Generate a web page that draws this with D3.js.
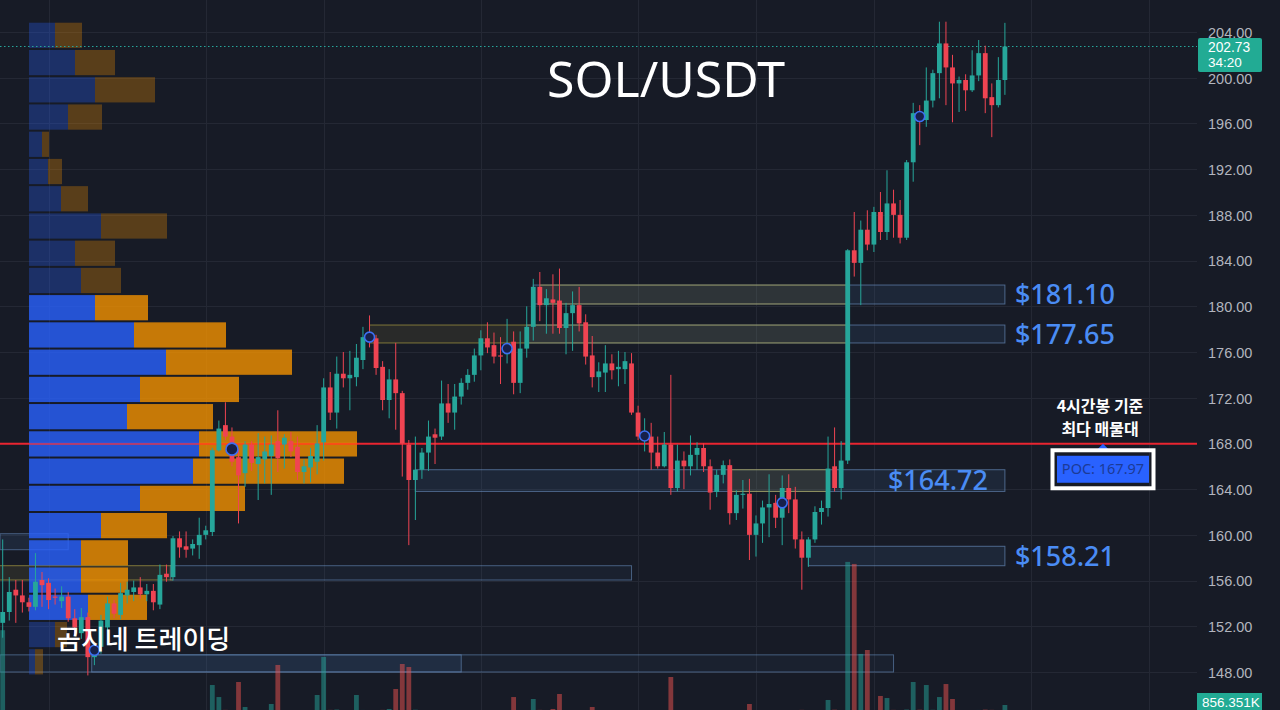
<!DOCTYPE html>
<html><head><meta charset="utf-8">
<script src="https://cdn.jsdelivr.net/npm/d3@7"></script>
<style>html,body{margin:0;padding:0;background:#171b26;overflow:hidden}</style>
</head><body><svg id="c" width="1280" height="710"></svg>
<script>
// ---------- DATA ----------
const opens=[
152.3,153.25,155.2,154.7,154.1,153.7,156.05,155.8,154.6,154.2,154.6,152.7,151.4,152.8,
149.3,150.2,151.9,154.0,153.0,154.7,155.0,155.4,154.8,155.1,153.9,156.6,156.3,159.7,
159.0,158.8,159.1,160.0,160.25,167.4,169.6,168.6,166.8,165.4,167.9,166.2,166.6,166.9,
168.2,167.9,168.2,167.7,165.5,165.9,166.4,168.1,172.9,170.7,174.1,173.7,173.8,175.3,
177.3,177.2,174.7,171.8,173.6,172.4,167.9,164.8,165.7,167.2,168.8,168.6,171.5,170.7,
172.1,173.3,174.0,175.7,177.2,176.6,175.7,175.8,176.9,173.3,176.3,178.2,181.7,180.1,
180.6,180.5,178.1,179.4,180.1,178.6,175.7,173.8,174.2,175.0,174.5,174.5,175.0,170.7,
168.4,168.6,167.2,166.0,167.9,164.1,166.5,166.0,167.0,167.6,166.0,163.75,165.25,166.1,
161.9,163.5,163.6,160.0,161.0,162.4,162.8,161.5,164.1,163.1,159.6,158.0,159.6,162.0,
162.35,166.0,164.1,166.5,184.9,183.8,186.7,185.4,188.25,186.5,189.0,188.0,186.0,192.6,
196.9,196.3,198.0,200.4,203.0,200.9,199.5,199.8,198.9,200.2,202.15,198.3,197.6,199.8];
const highs=[
159.6,156.3,156.05,156.05,154.5,158.4,156.75,156.2,155.3,155.5,155.0,153.5,153.6,153.2,
150.3,153.0,154.6,154.3,155.8,155.9,156.0,156.3,155.7,155.7,157.4,157.4,159.9,160.3,
160.3,159.6,161.5,160.8,167.6,170.0,171.6,169.4,167.5,168.2,168.2,168.9,168.6,168.7,
170.9,168.8,169.0,168.6,166.6,167.6,169.6,173.7,174.25,175.6,176.0,176.1,176.7,178.2,
179.2,177.5,175.2,174.5,176.8,172.6,168.3,168.6,167.6,170.0,169.3,173.5,173.2,173.2,
173.7,174.5,176.3,177.9,178.6,177.7,177.3,178.9,177.8,177.8,180.0,182.4,183.0,181.5,
182.8,183.3,180.3,181.3,181.7,179.3,177.4,175.1,176.6,175.8,176.1,176.0,175.9,171.3,
170.2,169.8,168.6,169.0,174.0,167.9,167.3,168.7,168.1,168.0,166.6,165.7,166.5,166.6,
163.9,164.8,164.9,161.7,163.0,165.3,163.5,165.2,165.3,164.2,160.3,159.8,162.5,163.0,
168.6,169.4,168.2,185.0,188.25,187.5,188.4,188.7,190.0,191.9,190.2,189.3,192.8,197.8,
197.6,200.9,200.7,204.9,204.9,202.0,200.1,200.3,202.4,203.3,202.8,199.5,201.8,204.8];
const lows=[
151.0,152.5,152.3,153.2,153.3,153.4,153.7,153.5,153.9,153.6,152.4,151.2,150.9,147.7,
148.6,149.6,151.5,152.7,152.6,154.0,154.2,154.4,154.2,153.4,153.5,155.9,156.0,158.0,
158.0,158.2,157.9,159.6,159.9,167.3,168.3,166.0,161.0,164.2,165.6,163.05,164.5,163.5,
165.5,165.8,166.8,164.8,164.5,164.6,165.3,166.5,170.05,169.3,172.9,170.9,173.0,174.5,
176.4,174.0,170.9,170.2,169.2,165.1,159.1,161.3,164.9,165.6,166.2,168.3,169.8,169.2,
171.4,172.7,173.4,174.4,175.9,175.0,173.2,175.0,172.3,172.4,175.5,177.0,178.7,177.6,
177.6,177.6,175.8,176.1,177.8,174.9,172.9,172.5,172.5,173.6,173.0,173.2,170.5,168.3,
167.3,165.7,165.8,165.9,163.5,163.8,164.0,165.2,165.7,165.5,162.2,163.3,164.5,160.9,
161.3,162.3,157.8,158.1,159.3,159.8,160.6,159.1,161.9,158.8,155.2,157.2,159.3,160.9,
161.6,163.8,163.1,166.2,182.6,180.1,184.9,184.75,185.8,185.8,186.0,185.5,185.8,190.9,
194.1,195.7,197.4,198.2,197.6,196.1,197.0,197.1,198.75,199.7,196.9,194.8,197.4,198.5];
const closes=[
153.25,155.0,154.7,154.1,153.7,155.9,155.6,154.3,154.5,154.6,152.7,151.9,152.8,149.3,
149.8,152.5,154.0,153.1,154.9,155.2,155.4,154.8,155.1,154.1,156.5,156.3,159.7,158.9,
158.7,159.2,160.0,160.4,167.4,169.3,168.6,166.4,165.2,167.9,166.3,166.8,167.3,167.9,
166.7,168.5,167.3,165.5,166.0,166.9,168.0,172.9,170.7,174.1,173.7,174.0,175.5,177.3,
176.9,174.6,171.8,173.6,172.4,168.0,164.8,165.7,167.2,168.6,168.5,171.5,170.7,172.1,
173.3,174.0,175.7,177.2,176.4,175.6,175.6,176.4,173.3,176.3,178.2,181.7,180.1,180.7,
180.3,178.1,179.4,180.1,178.5,175.6,173.8,174.3,175.0,174.4,174.7,175.2,170.7,168.6,
168.6,167.2,166.0,167.9,164.1,166.5,166.0,167.0,167.6,166.0,163.7,165.25,166.1,161.9,
163.5,163.6,160.0,161.0,162.4,162.7,161.5,164.1,163.1,159.6,158.0,159.6,162.0,162.35,
165.8,164.1,166.5,184.9,183.8,186.7,185.4,188.25,186.5,189.0,188.0,186.0,192.6,196.9,
196.3,198.0,200.4,203.0,200.9,199.5,199.8,198.9,200.2,202.15,198.2,197.6,199.8,202.73];
const volumes=[
10000,180,150,120,100,200,140,120,90,110,160,150,130,240,
200,150,170,120,160,110,100,130,90,120,180,110,230,170,
150,120,200,140,3300,1830,260,240,3670,610,180,220,190,980,
5750,210,160,230,140,170,2080,6730,260,300,180,200,2080,250,
230,200,260,370,2810,5870,5500,280,190,210,150,240,160,190,
170,150,200,230,180,160,150,210,1830,220,240,1590,260,200,
370,2200,240,210,190,230,610,160,170,140,130,150,245,220,
190,200,160,180,4280,210,160,170,140,150,220,160,150,230,
180,140,980,200,170,190,160,210,180,230,260,200,190,150,
1470,280,240,18350,18100,7100,7580,245,1960,1710,260,220,300,3670,
280,3300,270,1830,3420,1590,200,180,230,250,290,260,210,856.351];
// volume profile rows, top -> bottom (up volume / down volume)
const profileUp=[26,46,66,39,13,19,32,72,46,52,66,105,137,111,98,170,164,111,72,52,52,59,26,6];
const profileDown=[27,40,60,34,7,14,27,66,40,40,53,92,126,99,86,158,151,105,66,47,47,59,12,8];
const priceTicks=[148,152,156,160,164,168,172,176,180,184,188,192,196,200,204];
const timeGridIdx=[7,31,49,73,97,115,133,157,175];
const pocPrice=167.97;
const lastPrice=202.73;
const countdown="34:20";
const lastVolume=856.351;
const lastVolumeLabel="856.351K";
const levelLabels=["$181.10","$177.65","$164.72","$158.21"];
const levelTop=[181.86,178.36,165.7,159.0];
const levelBottom=[180.2,176.79,163.8,157.3];
const levelStart=[81,80,63,123];
const levelLabelInside=[false,false,true,false];
const supplyTop=[181.86,178.36,165.7,157.3];
const supplyBottom=[180.2,176.79,163.8,156.05];
const supplyStart=[82,56,111,0];
const supplyEnd=[129,129,126,26];
const boxTop=[157.3,149.5,149.5,160.1];
const boxBottom=[156.05,148.0,148.0,158.7];
const boxStart=[26,0,14,0];
const boxEnd=[96,136,70,10];
const boxFilled=[false,false,true,true];
const pivotIdx=[14,35,56,77,98,119,140];
const pivotPrice=[149.9,167.5,177.3,176.3,168.65,162.8,196.6];
const title="SOL/USDT";
const watermark="곰지네 트레이딩";
const noteLines=["4시간봉 기준","최다 매물대"];
const pocText="POC: 167.97";

// ---------- SCALES ----------
const W=1280,H=710,plotRight=1197;
const svg=d3.select("#c");
const x=d3.scaleLinear().domain([0,153]).range([2.7,1004.9]);
const y=d3.scaleLinear().domain([148,204]).range([672,32]);
const vy=d3.scaleLinear().domain([0,20000]).range([712,548.4]);
const px=d3.scaleLinear().domain([0,340]).range([0,340]);
const bw=4.8;
const FONT="'Noto Sans','Open Sans',sans-serif";
const AFONT="'Liberation Sans',Arial,sans-serif";
const KFONT="'Noto Sans CJK KR','Noto Sans',sans-serif";
const up="#26a69a", dn="#ef4452";
const candles=opens.map((o,i)=>({i,o,h:highs[i],l:lows[i],c:closes[i],v:volumes[i]}));

svg.append("rect").attr("width",W).attr("height",H).attr("fill","#171b26");

// grid
const g0=svg.append("g");
g0.selectAll(".hg").data(priceTicks).join("line").attr("x1",0).attr("x2",plotRight)
  .attr("y1",d=>Math.round(y(d))+0.5).attr("y2",d=>Math.round(y(d))+0.5).attr("stroke","#242834").attr("stroke-width",1);
g0.selectAll(".vg").data(timeGridIdx).join("line").attr("y1",0).attr("y2",H)
  .attr("x1",d=>Math.round(x(d))+0.5).attr("x2",d=>Math.round(x(d))+0.5).attr("stroke","#242834").attr("stroke-width",1);

// zones
const gz=svg.append("g");
levelTop.forEach((t,k)=>{
  gz.append("rect").attr("x",x(levelStart[k])).attr("y",y(t)).attr("width",x(153)-x(levelStart[k])).attr("height",y(levelBottom[k])-y(t))
    .attr("fill","rgba(70,110,170,0.14)").attr("stroke","rgba(110,150,200,0.6)").attr("stroke-width",1);
});
boxTop.forEach((t,k)=>{
  gz.append("rect").attr("x",x(boxStart[k])-2.7).attr("y",y(t)).attr("width",x(boxEnd[k])-x(boxStart[k])+2.7).attr("height",y(boxBottom[k])-y(t))
    .attr("fill",boxFilled[k]?"rgba(70,110,170,0.16)":"rgba(70,110,170,0.07)").attr("stroke","rgba(110,150,200,0.55)").attr("stroke-width",1);
});
supplyTop.forEach((t,k)=>{
  const x0=x(supplyStart[k])-(supplyStart[k]===0?2.7:0), x1=x(supplyEnd[k]);
  gz.append("rect").attr("x",x0).attr("y",y(t)).attr("width",x1-x0).attr("height",y(supplyBottom[k])-y(t)).attr("fill","rgba(160,150,60,0.13)");
  [t,supplyBottom[k]].forEach(p=>gz.append("line").attr("x1",x0).attr("x2",x1).attr("y1",y(p)).attr("y2",y(p)).attr("stroke","rgba(190,175,70,0.6)").attr("stroke-width",1));
});

// volume
svg.append("g").selectAll("rect").data(candles).join("rect")
  .attr("x",d=>x(d.i)-bw/2).attr("width",bw).attr("y",d=>vy(d.v)).attr("height",d=>712-vy(d.v))
  .attr("fill",d=>d.c>=d.o?"rgba(38,166,154,0.5)":"rgba(239,83,80,0.5)");

// POC red line
svg.append("line").attr("x1",0).attr("x2",plotRight).attr("y1",y(pocPrice)).attr("y2",y(pocPrice)).attr("stroke","#ea2530").attr("stroke-width",2.2);

// volume profile
const pHi=d3.max(highs), pLo=d3.min(lows), nRows=profileUp.length, rowStep=(pHi-pLo)/nRows;
const tot=profileUp.map((u,k)=>u+profileDown[k]);
const pocRow=d3.maxIndex(tot);
let inVA=new Set([pocRow]), acc=tot[pocRow], lo=pocRow, hi=pocRow; const target=0.7*d3.sum(tot);
while(acc<target){
  const a=lo-1>=0?tot[lo-1]:-1, b=hi+1<nRows?tot[hi+1]:-1;
  if(b>=a){hi++;acc+=b;inVA.add(hi);}else{lo--;acc+=a;inVA.add(lo);}
}
const gp=svg.append("g");
profileUp.forEach((u,k)=>{
  const top=pHi-k*rowStep, bot=top-rowStep;
  const yt=y(top)+1, hh=y(bot)-y(top)-2, va=inVA.has(k);
  gp.append("rect").attr("x",29).attr("y",yt).attr("width",px(u)).attr("height",hh).attr("fill","#2962ff").attr("fill-opacity",va?0.8:0.3);
  gp.append("rect").attr("x",29+px(u)).attr("y",yt).attr("width",px(profileDown[k])).attr("height",hh).attr("fill","#f29100").attr("fill-opacity",va?0.8:0.3);
});
{
  const pocY=y(pHi-(pocRow+0.5)*rowStep);
  gp.append("line").attr("x1",29).attr("x2",29+px(profileUp[pocRow]+profileDown[pocRow])).attr("y1",pocY).attr("y2",pocY)
    .attr("stroke","#ff2a20").attr("stroke-opacity",0.55).attr("stroke-width",2);
}

// last price dotted line
svg.append("line").attr("x1",0).attr("x2",plotRight).attr("y1",y(lastPrice)).attr("y2",y(lastPrice))
  .attr("stroke","#26a69a").attr("stroke-width",1).attr("stroke-dasharray","1.5,2.5");

// candles
const gc=svg.append("g");
gc.selectAll("line").data(candles).join("line").attr("x1",d=>x(d.i)).attr("x2",d=>x(d.i))
  .attr("y1",d=>y(d.h)).attr("y2",d=>y(d.l)).attr("stroke",d=>d.c>=d.o?up:dn).attr("stroke-width",1);
gc.selectAll("rect").data(candles).join("rect").attr("x",d=>x(d.i)-bw/2).attr("width",bw)
  .attr("y",d=>y(Math.max(d.o,d.c))).attr("height",d=>Math.max(1,Math.abs(y(d.o)-y(d.c)))).attr("fill",d=>d.c>=d.o?up:dn);

// pivots
svg.append("g").selectAll("circle").data(pivotIdx).join("circle").attr("cx",d=>x(d)).attr("cy",(d,k)=>y(pivotPrice[k]))
  .attr("r",(d,k)=>k===1?6:5).attr("fill","#17204a").attr("stroke","#3d6ff2").attr("stroke-width",1.6);

// texts
svg.append("text").attr("x",666).attr("y",97).attr("text-anchor","middle").attr("fill","#fff")
  .attr("font-family",FONT).attr("font-size",50).text(title);
svg.append("text").attr("x",57).attr("y",649).attr("fill","#fff").attr("font-family",KFONT)
  .attr("font-weight",500).attr("font-size",26).text(watermark);

levelLabels.forEach((t,k)=>{
  const mid=(levelTop[k]+levelBottom[k])/2;
  svg.append("text").attr("x",levelLabelInside[k]?x(153)-17:x(153)+10).attr("y",y(mid)).attr("dy","0.36em")
    .attr("text-anchor",levelLabelInside[k]?"end":"start").attr("fill","#4a8cf4").attr("font-family",FONT)
    .attr("font-weight",500).attr("font-size",27).text(t);
});

// note + POC box
const py=y(pocPrice);
noteLines.forEach((t,k)=>svg.append("text").attr("x",1100).attr("y",py-32+k*23.5).attr("text-anchor","middle")
  .attr("fill","#fff").attr("font-family",KFONT).attr("font-weight",700).attr("font-size",16).text(t));
svg.append("path").attr("d",`M1097,${py+6}L1103,${py}L1109,${py+6}Z`).attr("fill","#2962ff");
svg.append("rect").attr("x",1052.5).attr("y",py+6.5).attr("width",101).attr("height",38).attr("fill","none").attr("stroke","#fff").attr("stroke-width",4);
svg.append("rect").attr("x",1057).attr("y",py+12).attr("width",92).attr("height",27).attr("fill","#2962ff");
svg.append("text").attr("x",1103).attr("y",py+25.5).attr("dy","0.35em").attr("text-anchor","middle").attr("fill","#1c3a96")
  .attr("font-family",FONT).attr("font-size",14.5).text(pocText);

// right axis
svg.append("g").selectAll("text").data(priceTicks).join("text").attr("x",1208).attr("y",d=>y(d)+0.8).attr("dy","0.35em")
  .attr("fill","#b2b5be").attr("font-family",AFONT).attr("font-size",14.5).text(d=>d.toFixed(2));

// last price tag
const ly=y(lastPrice);
svg.append("rect").attr("x",1198).attr("y",ly-8.5).attr("width",64).attr("height",34).attr("rx",2).attr("fill","#22ab94");
svg.append("text").attr("x",1208).attr("y",ly+1).attr("dy","0.35em").attr("fill","#fff").attr("font-family",AFONT).attr("font-size",13.8).text(lastPrice.toFixed(2));
svg.append("text").attr("x",1208).attr("y",ly+16).attr("dy","0.35em").attr("fill","#fff").attr("font-family",AFONT).attr("font-size",13.5).text(countdown);
// volume tag
const vty=vy(lastVolume)-3;
svg.append("rect").attr("x",1197).attr("y",vty-9).attr("width",65).attr("height",H-(vty-9)).attr("fill","#22ab94");
svg.append("text").attr("x",1202).attr("y",vty+0.5).attr("dy","0.35em").attr("fill","#fff").attr("font-family",AFONT).attr("font-size",13.5).text(lastVolumeLabel);
</script></body></html>
